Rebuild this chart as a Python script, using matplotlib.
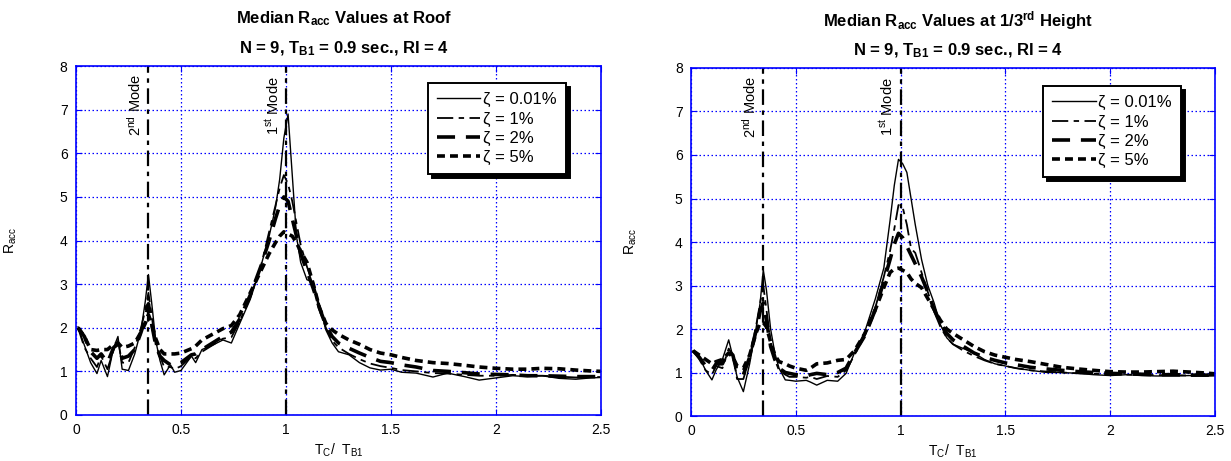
import matplotlib
matplotlib.use('Agg')
import matplotlib.pyplot as plt

plt.rcParams['font.family'] = ['Liberation Sans', 'DejaVu Sans']
plt.rcParams['mathtext.fontset'] = 'custom'
plt.rcParams['mathtext.rm'] = 'Liberation Sans'
plt.rcParams['mathtext.it'] = 'Liberation Sans:italic'
plt.rcParams['mathtext.bf'] = 'Liberation Sans:bold'
plt.rcParams['mathtext.default'] = 'regular'

# period ratio T_C / T_B1
x = [0.01, 0.04, 0.07, 0.10, 0.12, 0.15, 0.18, 0.20, 0.22, 0.25, 0.28, 0.31, 0.33,
     0.345, 0.36, 0.38, 0.40, 0.42, 0.45, 0.47, 0.50, 0.55, 0.57, 0.60, 0.65, 0.70,
     0.74, 0.78, 0.83, 0.88, 0.92, 0.95, 0.97, 0.99, 1.01, 1.03, 1.05, 1.07, 1.10,
     1.13, 1.16, 1.19, 1.22, 1.25, 1.30, 1.35, 1.40, 1.45, 1.50, 1.55, 1.62, 1.70,
     1.77, 1.85, 1.92, 2.00, 2.08, 2.15, 2.22, 2.30, 2.38, 2.45, 2.50]

# median R_acc at roof
roof_001 = [2.02, 1.6, 1.2, 0.95, 1.25, 0.88, 1.55, 1.8, 1.05, 1.02, 1.4, 1.95, 2.6,
            3.22, 2.6, 1.7, 1.25, 0.92, 1.15, 0.98, 1.02, 1.35, 1.2, 1.5, 1.6, 1.72,
            1.65, 2.1, 2.65, 3.4, 4.1, 4.75, 5.4, 6.35, 6.9, 5.5, 4.1, 3.5, 3.1,
            3.05, 2.5, 1.95, 1.65, 1.45, 1.38, 1.2, 1.08, 1.03, 1.05, 0.98, 0.96, 0.87,
            0.96, 0.88, 0.8, 0.85, 0.9, 0.88, 0.9, 0.84, 0.82, 0.85, 0.86]
roof_1 = [2.0, 1.55, 1.3, 1.1, 1.35, 1.05, 1.5, 1.7, 1.2, 1.2, 1.55, 2.0, 2.4,
          2.8, 2.3, 1.6, 1.35, 1.1, 1.1, 1.05, 1.12, 1.35, 1.3, 1.45, 1.6, 1.75,
          1.78, 2.15, 2.7, 3.4, 4.2, 4.8, 5.2, 5.5, 5.3, 4.9, 4.4, 3.9, 3.4,
          3.0, 2.4, 2.0, 1.7, 1.55, 1.4, 1.28, 1.18, 1.12, 1.08, 1.03, 1.0, 0.96,
          0.95, 0.92, 0.9, 0.9, 0.92, 0.9, 0.9, 0.88, 0.86, 0.87, 0.87]
roof_2 = [2.0, 1.8, 1.45, 1.3, 1.4, 1.2, 1.55, 1.62, 1.3, 1.35, 1.5, 1.9, 2.2,
          2.55, 2.1, 1.6, 1.35, 1.25, 1.15, 1.15, 1.2, 1.38, 1.4, 1.5, 1.65, 1.8,
          1.9, 2.2, 2.75, 3.4, 4.0, 4.5, 4.8, 5.0, 4.9, 4.5, 4.1, 3.7, 3.3,
          2.9, 2.45, 2.05, 1.8, 1.65, 1.53, 1.42, 1.32, 1.23, 1.2, 1.15, 1.1, 1.02,
          1.0, 0.97, 0.94, 0.93, 0.92, 0.9, 0.9, 0.89, 0.88, 0.88, 0.88]
roof_5 = [2.0, 1.8, 1.5, 1.48, 1.5, 1.5, 1.62, 1.65, 1.55, 1.58, 1.65, 1.9, 2.1,
          2.3, 2.1, 1.75, 1.5, 1.4, 1.4, 1.4, 1.42, 1.52, 1.58, 1.72, 1.85, 1.98,
          2.05, 2.3, 2.8, 3.3, 3.7, 3.95, 4.1, 4.2, 4.15, 4.1, 3.95, 3.75, 3.5,
          3.0, 2.45, 2.1, 1.95, 1.85, 1.72, 1.62, 1.5, 1.42, 1.38, 1.32, 1.25, 1.2,
          1.18, 1.14, 1.1, 1.07, 1.05, 1.05, 1.07, 1.06, 1.03, 1.01, 1.0]

# median R_acc at 1/3rd height
third_001 = [1.5, 1.35, 1.05, 0.83, 1.06, 1.3, 1.75, 1.36, 0.9, 0.56, 1.2, 2.0, 2.6,
             3.36, 2.9, 2.0, 1.45, 1.1, 0.83, 0.82, 0.8, 0.82, 0.78, 0.71, 0.82, 0.8,
             0.98, 1.45, 1.95, 2.7, 3.4, 4.5, 5.3, 5.9, 5.8, 5.6, 5.0, 4.4, 3.6,
             3.0, 2.6, 2.1, 1.8, 1.65, 1.55, 1.45, 1.3, 1.2, 1.15, 1.1, 1.05, 1.0,
             1.0, 0.98, 0.95, 0.93, 0.95, 0.93, 0.92, 0.92, 0.93, 0.92, 0.93]
third_1 = [1.5, 1.3, 1.05, 0.95, 1.15, 1.1, 1.55, 1.4, 0.85, 0.85, 1.35, 2.05, 2.6,
           3.0, 2.45, 1.7, 1.3, 1.05, 0.95, 0.9, 0.9, 0.88, 0.9, 0.85, 0.92, 0.9,
           1.05, 1.4, 1.85, 2.5, 3.2, 3.8, 4.3, 4.85, 4.8, 4.4, 3.85, 3.75, 3.3,
           2.85, 2.4, 2.05, 1.8, 1.65, 1.5, 1.38, 1.28, 1.2, 1.15, 1.1, 1.05, 1.02,
           1.0, 0.98, 0.97, 0.96, 0.95, 0.95, 0.94, 0.94, 0.93, 0.93, 0.93]
third_2 = [1.5, 1.35, 1.15, 1.05, 1.2, 1.2, 1.5, 1.4, 1.0, 0.95, 1.35, 1.95, 2.4,
           2.6, 2.2, 1.6, 1.3, 1.1, 1.0, 0.98, 0.95, 0.92, 0.95, 0.98, 0.95, 1.0,
           1.1, 1.45, 1.85, 2.45, 3.1, 3.6, 3.95, 4.2, 4.1, 3.9, 3.7, 3.5, 3.2,
           2.85, 2.45, 2.15, 1.9, 1.75, 1.6, 1.45, 1.35, 1.28, 1.22, 1.18, 1.12, 1.08,
           1.05, 1.02, 1.0, 0.98, 0.97, 0.96, 0.95, 0.95, 0.94, 0.94, 0.94]
third_5 = [1.5, 1.4, 1.3, 1.2, 1.25, 1.3, 1.45, 1.35, 1.15, 1.1, 1.4, 1.9, 2.15,
           2.15, 2.05, 1.7, 1.4, 1.25, 1.2, 1.15, 1.1, 1.05, 1.1, 1.2, 1.22, 1.28,
           1.3, 1.5, 1.9, 2.45, 2.95, 3.3, 3.38, 3.4, 3.35, 3.3, 3.15, 3.05, 2.95,
           2.7, 2.45, 2.2, 2.0, 1.9, 1.75, 1.6, 1.48, 1.4, 1.35, 1.3, 1.25, 1.18,
           1.12, 1.08, 1.05, 1.02, 1.01, 1.01, 1.02, 1.03, 1.01, 0.99, 0.97]

labels = ['ζ = 0.01%', 'ζ = 1%', 'ζ = 2%', 'ζ = 5%']
mode_x = [0.345, 1.0]
mode_labels = ['2$^{nd}$ Mode', '1$^{st}$ Mode']

styles = [dict(lw=1.0, ls='-'),
          dict(lw=1.3, dashes=(9, 3, 3, 3)),
          dict(lw=2.6, dashes=(5, 3)),
          dict(lw=2.6, dashes=(2.2, 1.4))]

BLUE = '#0000ff'


def draw_panel(ax, series, title1, leg_anchor):
    for ys, lab, st in zip(series, labels, styles):
        ax.plot(x, ys, color='black', label=lab, **st)
    for mx in mode_x:
        ax.plot([mx, mx], [0, 8], color='black', lw=1.6, dashes=(7, 2.5, 2, 2.5))
    for mx, ml in zip(mode_x, mode_labels):
        ax.text(mx - 0.065, 7.1, ml, rotation=90, ha='center', va='center', fontsize=10.5)

    ax.set_xlim(0, 2.5)
    ax.set_ylim(0, 8)
    ax.set_xticks([0, 0.5, 1, 1.5, 2, 2.5])
    ax.set_xticklabels(['0', '0.5', '1', '1.5', '2', '2.5'])
    ax.set_yticks(range(9))
    ax.grid(True, color=BLUE, ls=(0, (1.2, 2)), lw=0.9)
    for sp in ax.spines.values():
        sp.set_color(BLUE)
        sp.set_linewidth(1.2)
    ax.tick_params(direction='in', color=BLUE, length=4, top=True, right=True,
                   labelsize=10, pad=6)

    ax.set_xlabel('T$_C$/  T$_{B1}$', fontsize=10)
    ax.set_ylabel('R$_{acc}$', fontsize=10)
    ax.xaxis.set_label_coords(0.5, -0.075)

    ax.text(0.51, 1.135, title1, transform=ax.transAxes, ha='center', va='center',
            fontsize=12, fontweight='bold')
    ax.text(0.51, 1.05, r'N = 9, T$_{\mathbf{B1}}$ = 0.9 sec., RI = 4',
            transform=ax.transAxes, ha='center', va='center',
            fontsize=12, fontweight='bold')

    leg = ax.legend(loc='upper left', bbox_to_anchor=leg_anchor, borderaxespad=0,
                    fontsize=12, handlelength=2.6, handletextpad=0.15,
                    labelspacing=0.25, borderpad=0.55, fancybox=False,
                    framealpha=1, edgecolor='black',
                    shadow={'color': 'black', 'alpha': 1, 'ox': 3, 'oy': -3})
    leg.get_frame().set_linewidth(1.4)


fig = plt.figure(figsize=(12.31, 4.61), dpi=100)
ax1 = fig.add_axes([0.0617, 0.0998, 0.4265, 0.757])
ax2 = fig.add_axes([0.5613, 0.0976, 0.4257, 0.7549])

draw_panel(ax1, [roof_001, roof_1, roof_2, roof_5],
           r'Median R$_{\mathbf{acc}}$ Values at Roof', (0.670, 0.951))
draw_panel(ax2, [third_001, third_1, third_2, third_5],
           r'Median R$_{\mathbf{acc}}$ Values at 1/3$^{\mathbf{rd}}$ Height', (0.672, 0.948))

ax1.yaxis.set_label_coords(-0.108, 0.5)
ax2.yaxis.set_label_coords(-0.100, 0.5)

fig.savefig('out.png', dpi=100)
